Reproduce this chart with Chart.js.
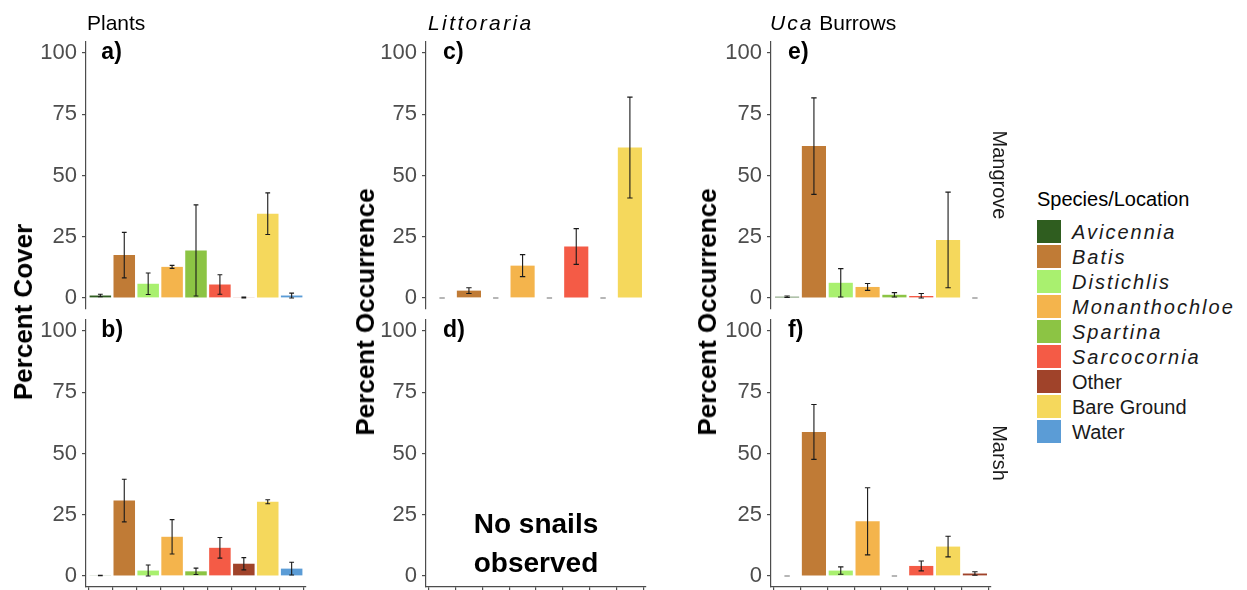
<!DOCTYPE html>
<html>
<head>
<meta charset="utf-8">
<script src="https://cdn.jsdelivr.net/npm/chart.js@4.4.1/dist/chart.umd.min.js"></script>
<style>
  html, body { margin: 0; padding: 0; background: #fff; }
  #fig { position: relative; width: 1247px; height: 590px; overflow: hidden; background: #fff;
         font-family: "Liberation Sans", Arial, sans-serif; color: #000; }
  #fig canvas { position: absolute; }
  .txt { position: absolute; white-space: nowrap; line-height: 1; }
  .rot { position: absolute; white-space: nowrap; line-height: 1; }
  .it { font-style: italic; }
  #legend { position: absolute; left: 1037px; top: 189px; }
  #legend .title { font-size: 20px; line-height: 20px; height: 30px; }
  #legend .row { display: flex; align-items: center; height: 25px; }
  #legend .sw { width: 24px; height: 23px; margin-right: 11px; }
  #legend .lab { font-size: 20px; line-height: 20px; color: #1a1a1a; }
  #legend .lab.it { letter-spacing: 2px; }
</style>
</head>
<body>
<div id="fig"></div>
<script>
// ---- categories (x order differs per response column) ----
const plantCats = ['Avicennia', 'Batis', 'Distichlis', 'Monanthochloe', 'Spartina', 'Sarcocornia', 'Other', 'Bare Ground', 'Water'];
const snailCats = ['Avicennia', 'Batis', 'Distichlis', 'Monanthochloe', 'Spartina', 'Sarcocornia', 'Other', 'Bare Ground'];
const ucaCats   = ['Avicennia', 'Batis', 'Distichlis', 'Monanthochloe', 'Spartina', 'Sarcocornia', 'Bare Ground', 'Other'];

// ---- means and standard errors ----
const plantsMangroveMean = [1.0, 17.5, 5.8, 12.7, 19.4, 5.5, 0.2, 34.4, 1.0];
const plantsMangroveSE   = [0.5, 9.3, 4.4, 0.6, 18.6, 4.0, 0.2, 8.5, 1.0];
const plantsMarshMean    = [0.2, 30.8, 2.2, 16.0, 1.9, 11.5, 5.0, 30.3, 3.0];
const plantsMarshSE      = [0.1, 8.7, 2.3, 7.0, 1.3, 4.2, 2.5, 0.8, 2.6];

const snailMangroveMean  = [0, 3.0, 0, 13.2, 0, 21.0, 0, 61.4];
const snailMangroveSE    = [0, 1.2, 0, 4.5, 0, 7.3, 0, 20.6];
const snailMarshMean     = [];
const snailMarshSE       = [];

const ucaMangroveMean    = [0.5, 62.0, 6.2, 4.5, 1.3, 0.8, 23.7, 0];
const ucaMangroveSE      = [0.3, 19.7, 5.8, 1.4, 0.9, 1.0, 19.5, 0];
const ucaMarshMean       = [0, 58.8, 2.2, 22.3, 0, 4.1, 12.0, 1.0];
const ucaMarshSE         = [0, 11.2, 1.5, 13.7, 0, 2.0, 4.2, 0.7];

const yTickValues = [0, 25, 50, 75, 100];

// ---- legend ----
const legendNames = ['Avicennia', 'Batis', 'Distichlis', 'Monanthochloe', 'Spartina', 'Sarcocornia', 'Other', 'Bare Ground', 'Water'];
const italicNames = ['Avicennia', 'Batis', 'Distichlis', 'Monanthochloe', 'Spartina', 'Sarcocornia'];
const speciesColors = {
  'Avicennia': '#2f5d1f',
  'Batis': '#c07b36',
  'Distichlis': '#a9f06f',
  'Monanthochloe': '#f4b44c',
  'Spartina': '#8cc444',
  'Sarcocornia': '#f45b46',
  'Other': '#a0432a',
  'Bare Ground': '#f5d85c',
  'Water': '#5b9cd6'
};

// ---- layout ----
const FONT = '"Liberation Sans", Arial, sans-serif';
const Y_MIN = -4.5, Y_MAX = 104.5;
const PANEL_W = 220, PANEL_H = 267;
const colLeft = [86, 426, 771];
const rowTop = [42, 320];
const AXIS_COL = '#4d4d4d';

// error bars: mean +/- se with short caps
const errorBars = {
  id: 'errorBars',
  afterDatasetsDraw(chart) {
    const ds = chart.data.datasets[0];
    if (!ds) return;
    const xs = chart.scales.x, ys = chart.scales.y, ctx = chart.ctx;
    const half = (xs.getPixelForValue(1) - xs.getPixelForValue(0)) * 0.1;
    ctx.save();
    ctx.lineWidth = 1.1;
    ds.data.forEach((p, i) => {
      const se = ds.se[i];
      const x = xs.getPixelForValue(p.x);
      const lo = ys.getPixelForValue(Math.max(0, p.y - se));
      const hi = ys.getPixelForValue(p.y + se);
      // empty categories show only the flattened cap
      ctx.strokeStyle = (p.y === 0 && se === 0) ? '#6e6e6e' : '#1a1a1a';
      ctx.beginPath();
      ctx.moveTo(x, lo); ctx.lineTo(x, hi);
      ctx.moveTo(x - half, lo); ctx.lineTo(x + half, lo);
      ctx.moveTo(x - half, hi); ctx.lineTo(x + half, hi);
      ctx.stroke();
    });
    ctx.restore();
  }
};

// panel tag ("a)") and optional note inside the panel
const panelText = {
  id: 'panelText',
  afterDraw(chart, args, opts) {
    const xs = chart.scales.x, ys = chart.scales.y, ctx = chart.ctx;
    ctx.save();
    ctx.fillStyle = '#000';
    ctx.textBaseline = 'alphabetic';
    ctx.textAlign = 'left';
    ctx.font = 'bold 23px ' + FONT;
    ctx.fillText(opts.tag, xs.getPixelForValue(0) + 1, ys.getPixelForValue(100) + 6);
    if (opts.note) {
      ctx.font = 'bold 28px ' + FONT;
      ctx.textAlign = 'center';
      const cx = xs.getPixelForValue(opts.noteX);
      const cy = ys.getPixelForValue(opts.noteY);
      opts.note.forEach((line, k) => {
        ctx.fillText(line, cx, cy + (k - (opts.note.length - 1) / 2) * 39);
      });
    }
    ctx.restore();
  }
};

const fig = document.getElementById('fig');

function makePanel(col, row, cats, means, ses, tag, note) {
  const bottomRow = row === 1;
  const padTop = 24, padBottom = bottomRow ? 20 : 24, padRight = 8, yAxisW = 80;
  const canvas = document.createElement('canvas');
  const w = yAxisW + PANEL_W + padRight;
  const h = padTop + PANEL_H + (bottomRow ? 6 : 0) + padBottom;
  canvas.width = w; canvas.height = h;
  canvas.style.left = (colLeft[col] - yAxisW) + 'px';
  canvas.style.top = (rowTop[row] - padTop) + 'px';
  canvas.style.width = w + 'px'; canvas.style.height = h + 'px';
  fig.appendChild(canvas);

  const datasets = means.length ? [{
    data: means.map((m, i) => ({ x: i, y: m })),
    se: ses,
    backgroundColor: cats.map(c => speciesColors[c]),
    borderWidth: 0,
    categoryPercentage: 1,
    barPercentage: 0.9
  }] : [];

  new Chart(canvas, {
    type: 'bar',
    data: { datasets },
    options: {
      responsive: false,
      animation: false,
      devicePixelRatio: 1,
      layout: { padding: { top: padTop, right: padRight, left: 0, bottom: padBottom } },
      plugins: {
        legend: { display: false },
        tooltip: { enabled: false },
        panelText: { tag, note: note ? note.lines : null, noteX: note ? note.x : 0, noteY: note ? note.y : 0 }
      },
      scales: {
        x: {
          type: 'linear',
          offset: false,
          min: -0.6,
          max: cats.length - 0.4,
          display: bottomRow,
          afterBuildTicks: s => { s.ticks = cats.map((_, i) => ({ value: i })); },
          ticks: { display: false },
          grid: { drawOnChartArea: false, drawTicks: true, tickLength: 5, color: AXIS_COL, lineWidth: 1.2 },
          border: { display: true, color: AXIS_COL, width: 1.2 },
          afterFit: s => { s.height = bottomRow ? 6 : 0; }
        },
        y: {
          min: Y_MIN,
          max: Y_MAX,
          afterBuildTicks: s => { s.ticks = yTickValues.map(v => ({ value: v })); },
          ticks: { font: { family: FONT, size: 22 }, color: AXIS_COL, padding: 5 },
          grid: { drawOnChartArea: false, drawTicks: true, tickLength: 4, color: AXIS_COL, lineWidth: 1.2 },
          border: { display: true, color: AXIS_COL, width: 1.2 },
          afterFit: s => { s.width = yAxisW; }
        }
      }
    },
    plugins: [errorBars, panelText]
  });
}

makePanel(0, 0, plantCats, plantsMangroveMean, plantsMangroveSE, 'a)');
makePanel(0, 1, plantCats, plantsMarshMean, plantsMarshSE, 'b)');
makePanel(1, 0, snailCats, snailMangroveMean, snailMangroveSE, 'c)');
makePanel(1, 1, snailCats, snailMarshMean, snailMarshSE, 'd)', { lines: ['No snails', 'observed'], x: 3.5, y: 9.6 });
makePanel(2, 0, ucaCats, ucaMangroveMean, ucaMangroveSE, 'e)');
makePanel(2, 1, ucaCats, ucaMarshMean, ucaMarshSE, 'f)');

// ---- text around the panels ----
function addText(html, left, top, size, extra) {
  const d = document.createElement('div');
  d.className = 'txt';
  d.style.left = left + 'px'; d.style.top = top + 'px';
  d.style.fontSize = size + 'px';
  if (extra) Object.assign(d.style, extra);
  d.innerHTML = html;
  fig.appendChild(d);
  return d;
}
function addRotated(text, cx, cy, size, angle, extra) {
  const d = document.createElement('div');
  d.className = 'rot';
  d.style.left = cx + 'px'; d.style.top = cy + 'px';
  d.style.fontSize = size + 'px';
  d.style.transform = 'translate(-50%, -50%) rotate(' + angle + 'deg)';
  if (extra) Object.assign(d.style, extra);
  d.textContent = text;
  fig.appendChild(d);
}

// column titles
addText('Plants', 87, 12, 21);
addText('<span class="it" style="letter-spacing:2.4px">Littoraria</span>', 428, 12, 21);
addText('<span class="it" style="letter-spacing:2px">Uca</span> Burrows', 770, 12, 21);

// y-axis titles
addRotated('Percent Cover', 23, 312, 26, -90, { fontWeight: 'bold' });
addRotated('Percent Occurrence', 365, 312, 26, -90, { fontWeight: 'bold' });
addRotated('Percent Occurrence', 707, 312, 26, -90, { fontWeight: 'bold' });

// row strip labels
addRotated('Mangrove', 1000, 175, 20, 90, { color: '#1a1a1a' });
addRotated('Marsh', 1000, 453, 20, 90, { color: '#1a1a1a' });

// legend
const legend = document.createElement('div');
legend.id = 'legend';
let lh = '<div class="title">Species/Location</div>';
legendNames.forEach(n => {
  const it = italicNames.includes(n) ? ' it' : '';
  lh += '<div class="row"><div class="sw" style="background:' + speciesColors[n] + '"></div><span class="lab' + it + '">' + n + '</span></div>';
});
legend.innerHTML = lh;
fig.appendChild(legend);
</script>
</body>
</html>
